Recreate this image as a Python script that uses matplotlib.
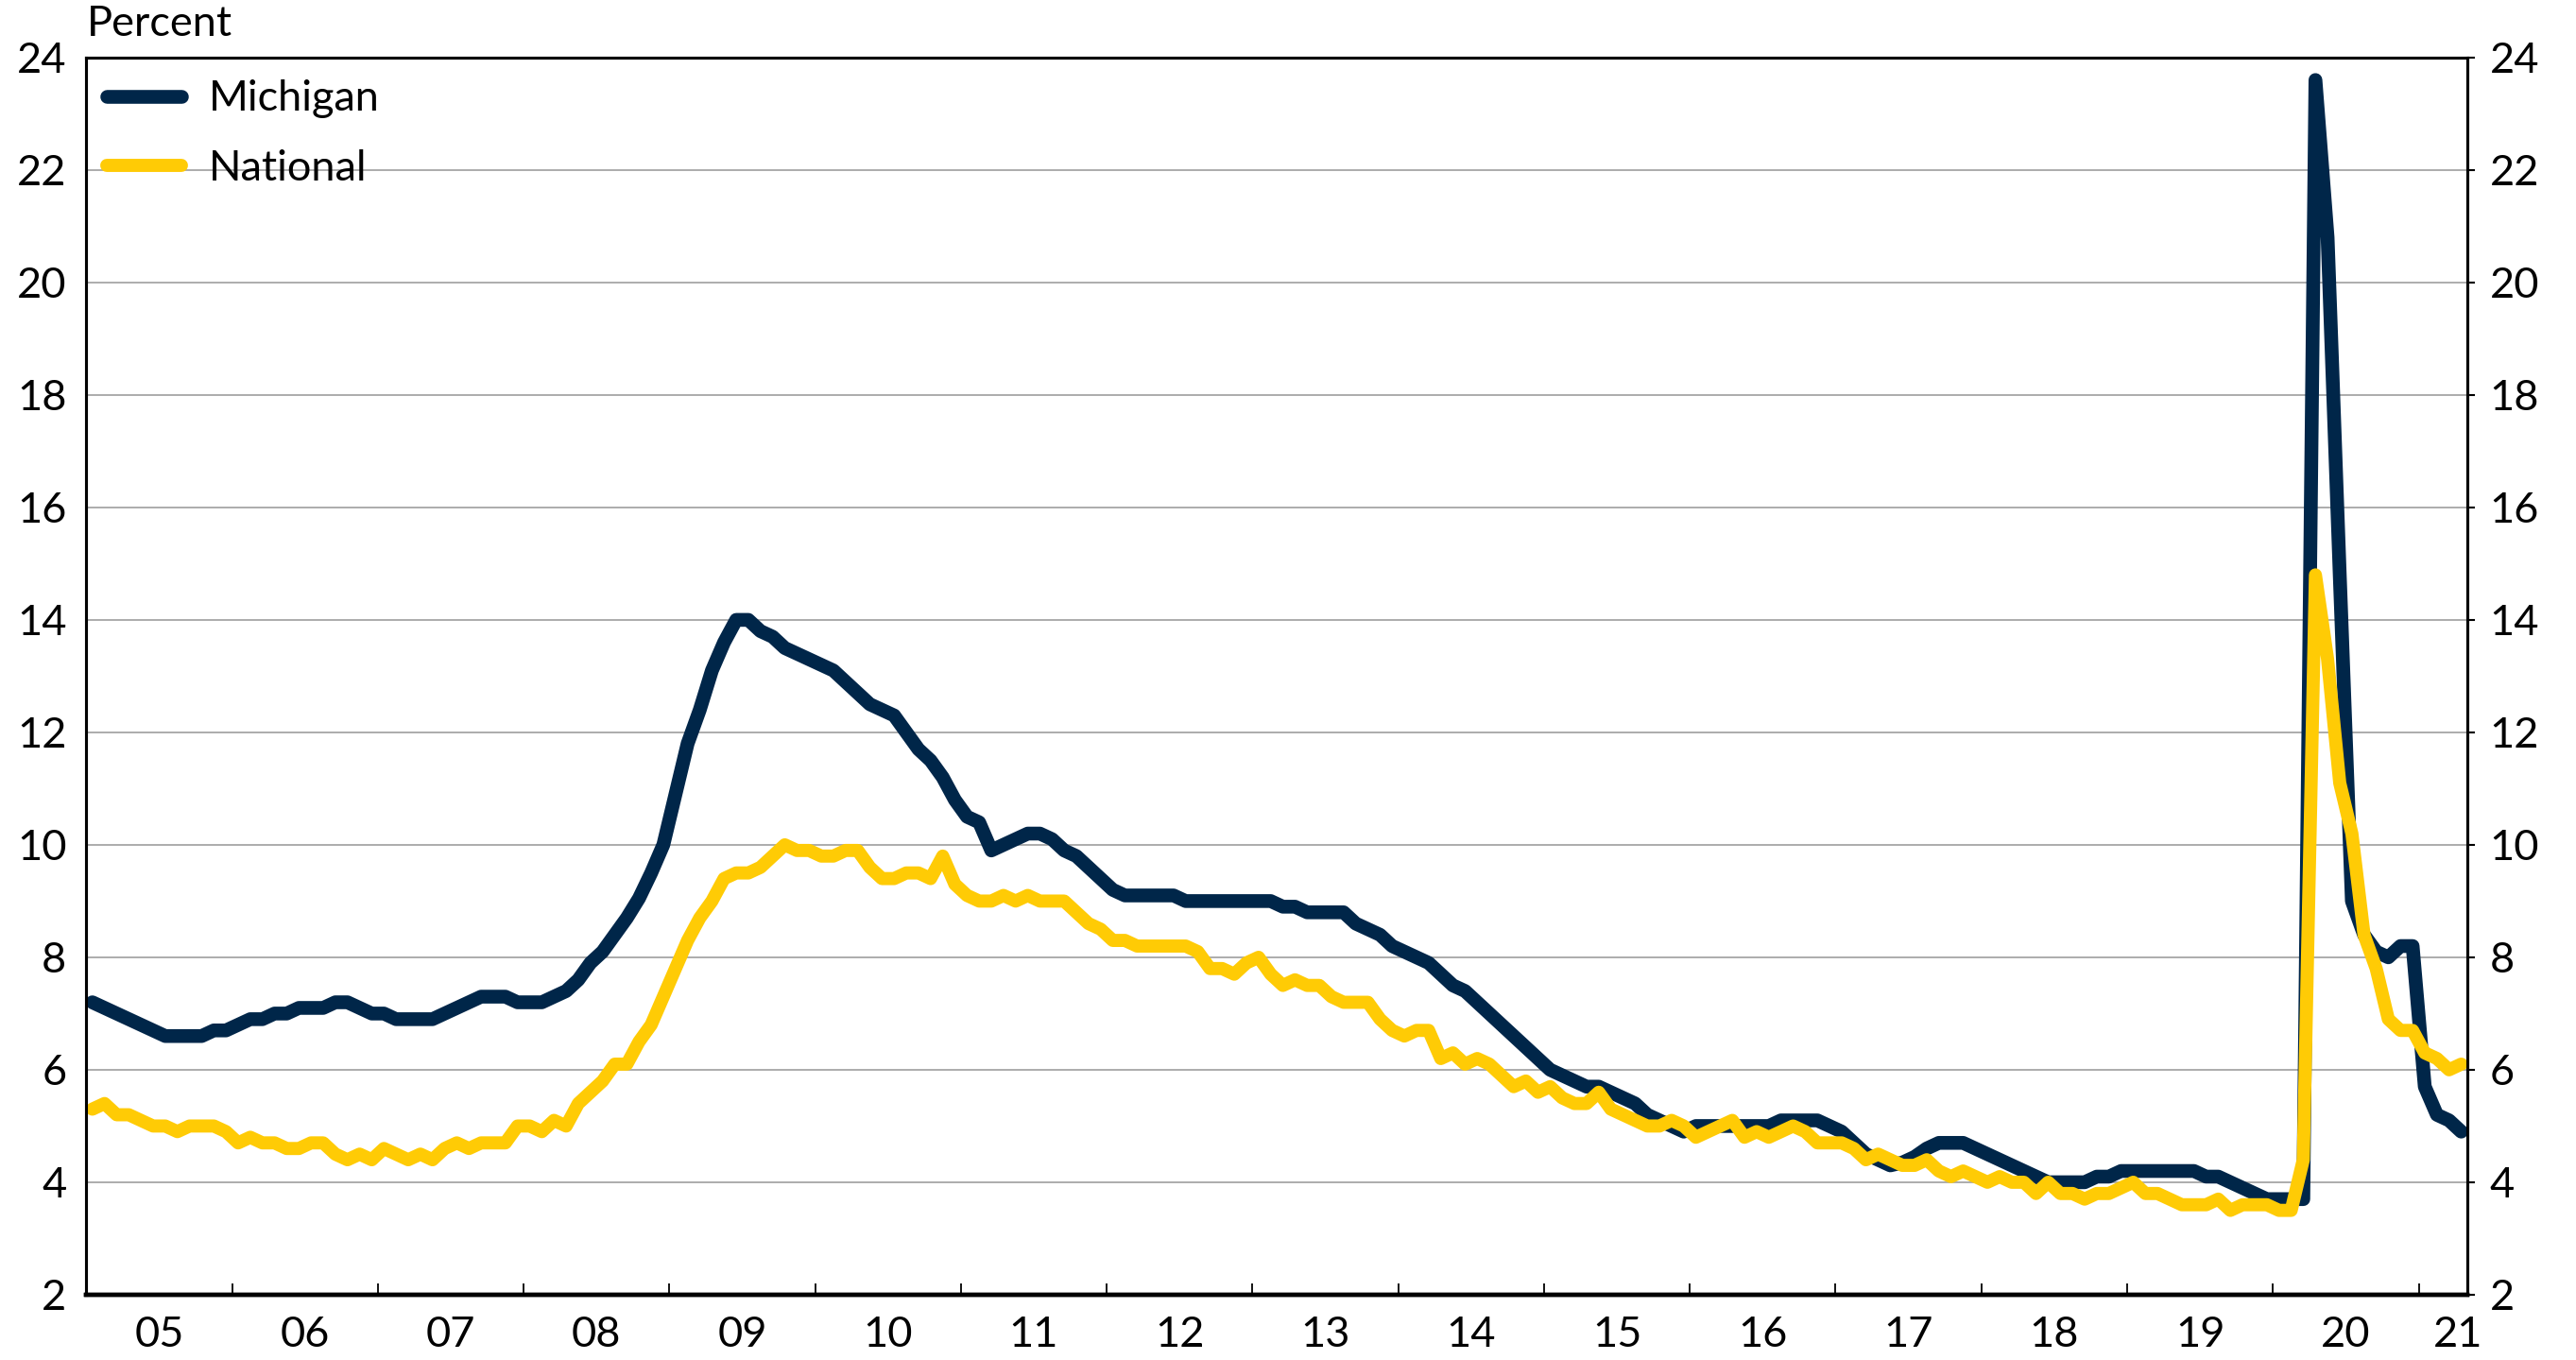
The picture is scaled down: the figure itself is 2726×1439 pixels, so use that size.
"""Michigan vs national unemployment rate, monthly 2005-2021"""
import numpy as np
import pandas as pd
import matplotlib
matplotlib.use("Agg")
import matplotlib.pyplot as plt

# monthly unemployment rate, percent, Jan 2005 - Apr 2021
michigan = [
    7.2, 7.1, 7.0, 6.9, 6.8, 6.7, 6.6, 6.6, 6.6, 6.6, 6.7, 6.7,      # 2005
    6.8, 6.9, 6.9, 7.0, 7.0, 7.1, 7.1, 7.1, 7.2, 7.2, 7.1, 7.0,      # 2006
    7.0, 6.9, 6.9, 6.9, 6.9, 7.0, 7.1, 7.2, 7.3, 7.3, 7.3, 7.2,      # 2007
    7.2, 7.2, 7.3, 7.4, 7.6, 7.9, 8.1, 8.4, 8.7, 9.05, 9.5, 10.0,    # 2008
    10.9, 11.8, 12.4, 13.1, 13.6, 14.0, 14.0, 13.8, 13.7, 13.5, 13.4, 13.3,  # 2009
    13.2, 13.1, 12.9, 12.7, 12.5, 12.4, 12.3, 12.0, 11.7, 11.5, 11.2, 10.8,  # 2010
    10.5, 10.4, 9.9, 10.0, 10.1, 10.2, 10.2, 10.1, 9.9, 9.8, 9.6, 9.4,       # 2011
    9.2, 9.1, 9.1, 9.1, 9.1, 9.1, 9.0, 9.0, 9.0, 9.0, 9.0, 9.0,      # 2012
    9.0, 9.0, 8.9, 8.9, 8.8, 8.8, 8.8, 8.8, 8.6, 8.5, 8.4, 8.2,      # 2013
    8.1, 8.0, 7.9, 7.7, 7.5, 7.4, 7.2, 7.0, 6.8, 6.6, 6.4, 6.2,      # 2014
    6.0, 5.9, 5.8, 5.7, 5.7, 5.6, 5.5, 5.4, 5.2, 5.1, 5.0, 4.9,      # 2015
    5.0, 5.0, 5.0, 5.0, 5.0, 5.0, 5.0, 5.1, 5.1, 5.1, 5.1, 5.0,      # 2016
    4.9, 4.7, 4.5, 4.4, 4.3, 4.35, 4.45, 4.6, 4.7, 4.7, 4.7, 4.6,    # 2017
    4.5, 4.4, 4.3, 4.2, 4.1, 4.0, 4.0, 4.0, 4.0, 4.1, 4.1, 4.2,      # 2018
    4.2, 4.2, 4.2, 4.2, 4.2, 4.2, 4.1, 4.1, 4.0, 3.9, 3.8, 3.7,      # 2019
    3.7, 3.7, 3.7, 23.6, 20.8, 14.8, 9.0, 8.4, 8.1, 8.0, 8.2, 8.2,   # 2020
    5.7, 5.2, 5.1, 4.9,                                              # 2021
]
national = [
    5.3, 5.4, 5.2, 5.2, 5.1, 5.0, 5.0, 4.9, 5.0, 5.0, 5.0, 4.9,      # 2005
    4.7, 4.8, 4.7, 4.7, 4.6, 4.6, 4.7, 4.7, 4.5, 4.4, 4.5, 4.4,      # 2006
    4.6, 4.5, 4.4, 4.5, 4.4, 4.6, 4.7, 4.6, 4.7, 4.7, 4.7, 5.0,      # 2007
    5.0, 4.9, 5.1, 5.0, 5.4, 5.6, 5.8, 6.1, 6.1, 6.5, 6.8, 7.3,      # 2008
    7.8, 8.3, 8.7, 9.0, 9.4, 9.5, 9.5, 9.6, 9.8, 10.0, 9.9, 9.9,     # 2009
    9.8, 9.8, 9.9, 9.9, 9.6, 9.4, 9.4, 9.5, 9.5, 9.4, 9.8, 9.3,      # 2010
    9.1, 9.0, 9.0, 9.1, 9.0, 9.1, 9.0, 9.0, 9.0, 8.8, 8.6, 8.5,      # 2011
    8.3, 8.3, 8.2, 8.2, 8.2, 8.2, 8.2, 8.1, 7.8, 7.8, 7.7, 7.9,      # 2012
    8.0, 7.7, 7.5, 7.6, 7.5, 7.5, 7.3, 7.2, 7.2, 7.2, 6.9, 6.7,      # 2013
    6.6, 6.7, 6.7, 6.2, 6.3, 6.1, 6.2, 6.1, 5.9, 5.7, 5.8, 5.6,      # 2014
    5.7, 5.5, 5.4, 5.4, 5.6, 5.3, 5.2, 5.1, 5.0, 5.0, 5.1, 5.0,      # 2015
    4.8, 4.9, 5.0, 5.1, 4.8, 4.9, 4.8, 4.9, 5.0, 4.9, 4.7, 4.7,      # 2016
    4.7, 4.6, 4.4, 4.5, 4.4, 4.3, 4.3, 4.4, 4.2, 4.1, 4.2, 4.1,      # 2017
    4.0, 4.1, 4.0, 4.0, 3.8, 4.0, 3.8, 3.8, 3.7, 3.8, 3.8, 3.9,      # 2018
    4.0, 3.8, 3.8, 3.7, 3.6, 3.6, 3.6, 3.7, 3.5, 3.6, 3.6, 3.6,      # 2019
    3.5, 3.5, 4.4, 14.8, 13.3, 11.1, 10.2, 8.4, 7.8, 6.9, 6.7, 6.7,  # 2020
    6.3, 6.2, 6.0, 6.1,                                              # 2021
]
year_labels = ["05", "06", "07", "08", "09", "10", "11", "12", "13",
               "14", "15", "16", "17", "18", "19", "20", "21"]

NAVY = "#002649"
MAIZE = "#FFCB05"

plt.rcParams["font.family"] = ["Lato", "DejaVu Sans"]
FS = 32.5

# decimal year at the middle of each month
dates = pd.date_range("2005-01-01", periods=len(michigan), freq="MS")
x = dates.year + (dates.month - 0.5) / 12

fig = plt.figure(figsize=(27.26, 14.39), dpi=100)
ax = fig.add_axes([0.0335, 0.048, 0.9243, 0.9097])

ax.plot(x, michigan, color=NAVY, lw=10.5, solid_capstyle="round",
        solid_joinstyle="round", label="Michigan", zorder=3)
ax.plot(x, national, color=MAIZE, lw=10, solid_capstyle="round",
        solid_joinstyle="round", label="National", zorder=4)

ax.set_xlim(2005, 2021 + 4 / 12)
ax.set_ylim(2, 24)
yt = np.arange(2, 25, 2)
ax.set_yticks(yt)
ax.set_yticklabels([str(v) for v in yt], fontsize=FS)
ax.tick_params(axis="y", length=0, pad=15)
ax.yaxis.grid(True, color="#A6A6A6", lw=1.3)
ax.set_axisbelow(True)

# year labels in the middle of each year, ticks on the year boundaries
mids = [2005.5 + i for i in range(len(year_labels) - 1)] + [2021.27]
ax.set_xticks(mids)
ax.set_xticklabels(year_labels, fontsize=FS)
ax.set_xticks(np.arange(2006, 2022), minor=True)
ax.tick_params(axis="x", which="major", length=0, pad=16)
ax.tick_params(axis="x", which="minor", direction="in", length=9, width=1.3)

ax2 = ax.twinx()
ax2.set_ylim(2, 24)
ax2.set_yticks(yt)
ax2.set_yticklabels([str(v) for v in yt], fontsize=FS)
ax2.tick_params(axis="y", direction="out", length=6, width=1.5, pad=11)

for a in (ax, ax2):
    for side in ("left", "right", "top"):
        a.spines[side].set_linewidth(2.2)
        a.spines[side].set_color("black")
    a.spines["bottom"].set_linewidth(3.2)

fig.text(92 / 2726, 1 - 26 / 1439, "Percent", fontsize=FS, va="center", ha="left")

leg = ax.legend(loc="upper left", bbox_to_anchor=(0.0085, 0.982), frameon=False,
                fontsize=FS, handlelength=1.75, handletextpad=0.65,
                labelspacing=0.72, borderpad=0, borderaxespad=0)

fig.savefig("out.png", dpi=100)
plt.close(fig)
